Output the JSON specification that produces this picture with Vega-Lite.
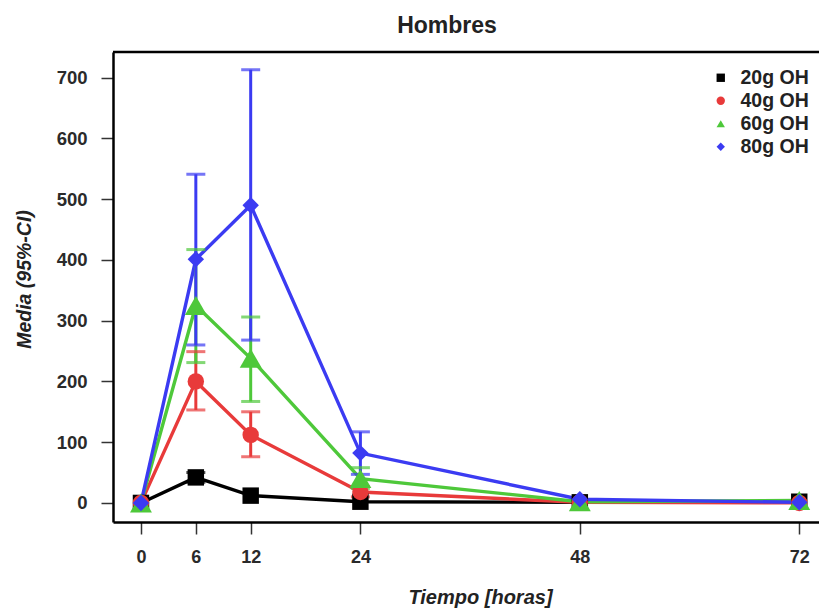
{
  "$schema": "https://vega.github.io/schema/vega-lite/v6.json",
  "width": 706,
  "height": 470,
  "autosize": {"type": "none"},
  "padding": {"left": 113, "top": 52, "right": 0, "bottom": 87},
  "title": {
    "text": "Hombres",
    "font": "Liberation Sans",
    "fontSize": 23,
    "fontWeight": "bold",
    "color": "#222222",
    "anchor": "middle",
    "frame": "group",
    "dx": -19,
    "offset": -5,
    "baseline": "alphabetic"
  },
  "config": {
    "view": {"stroke": null},
    "font": "Liberation Sans"
  },
  "data": {
    "values": [
      {"serie": "20g OH", "t": 0, "mean": 0, "lo": null, "hi": null},
      {"serie": "20g OH", "t": 6, "mean": 42, "lo": 34, "hi": 50},
      {"serie": "20g OH", "t": 12, "mean": 12, "lo": null, "hi": null},
      {"serie": "20g OH", "t": 24, "mean": 2, "lo": null, "hi": null},
      {"serie": "20g OH", "t": 48, "mean": 1, "lo": null, "hi": null},
      {"serie": "20g OH", "t": 72, "mean": 2, "lo": null, "hi": null},
      {"serie": "40g OH", "t": 0, "mean": 0, "lo": null, "hi": null},
      {"serie": "40g OH", "t": 6, "mean": 200, "lo": 153, "hi": 249},
      {"serie": "40g OH", "t": 12, "mean": 112, "lo": 76, "hi": 150},
      {"serie": "40g OH", "t": 24, "mean": 18, "lo": 10, "hi": 27},
      {"serie": "40g OH", "t": 48, "mean": 1, "lo": null, "hi": null},
      {"serie": "40g OH", "t": 72, "mean": 0, "lo": null, "hi": null},
      {"serie": "60g OH", "t": 0, "mean": 0, "lo": null, "hi": null},
      {"serie": "60g OH", "t": 6, "mean": 325, "lo": 231, "hi": 417},
      {"serie": "60g OH", "t": 12, "mean": 238, "lo": 167, "hi": 306},
      {"serie": "60g OH", "t": 24, "mean": 40, "lo": 24, "hi": 58},
      {"serie": "60g OH", "t": 48, "mean": 2, "lo": null, "hi": null},
      {"serie": "60g OH", "t": 72, "mean": 4, "lo": null, "hi": null},
      {"serie": "80g OH", "t": 0, "mean": 0, "lo": null, "hi": null},
      {"serie": "80g OH", "t": 6, "mean": 401, "lo": 260, "hi": 541},
      {"serie": "80g OH", "t": 12, "mean": 490, "lo": 268, "hi": 713},
      {"serie": "80g OH", "t": 24, "mean": 82, "lo": 47, "hi": 117},
      {"serie": "80g OH", "t": 48, "mean": 6, "lo": null, "hi": null},
      {"serie": "80g OH", "t": 72, "mean": 1, "lo": null, "hi": null}
    ]
  },
  "layer": [
    {
      "mark": {"type": "line", "strokeWidth": 3.4},
      "encoding": {
        "x": {
          "field": "t", "type": "quantitative",
          "scale": {"domain": [-3.06, 74.16], "nice": false, "zero": false},
          "title": "Tiempo [horas]",
          "axis": {
            "values": [0, 6, 12, 24, 48, 72],
            "grid": false,
            "domainColor": "#000000",
            "domainWidth": 2.5,
            "tickColor": "#333333",
            "tickWidth": 1.5,
            "tickSize": 12,
            "labelFont": "Liberation Sans",
            "labelFontSize": 18,
            "labelFontWeight": "bold",
            "labelColor": "#2a2a2a",
            "labelPadding": 14,
            "titleFont": "Liberation Sans",
            "titleFontSize": 20,
            "titleFontWeight": "bold",
            "titleFontStyle": "italic",
            "titleColor": "#222222",
            "titleX": 367,
            "titleY": 75,
            "titleBaseline": "middle",
            "titleAlign": "center"
          }
        },
        "y": {
          "field": "mean", "type": "quantitative",
          "scale": {"domain": [-31.4, 742.2], "nice": false, "zero": false},
          "title": "Media (95%-CI)",
          "axis": {
            "values": [0, 100, 200, 300, 400, 500, 600, 700],
            "grid": false,
            "domainColor": "#000000",
            "domainWidth": 2.5,
            "tickColor": "#333333",
            "tickWidth": 1.5,
            "tickSize": 12,
            "labelFont": "Liberation Sans",
            "labelFontSize": 18.5,
            "labelFontWeight": "bold",
            "labelColor": "#2a2a2a",
            "labelPadding": 14,
            "titleFont": "Liberation Sans",
            "titleFontSize": 19.5,
            "titleFontWeight": "bold",
            "titleFontStyle": "italic",
            "titleColor": "#222222",
            "titleAngle": -90,
            "titleX": -89,
            "titleY": 227,
            "titleBaseline": "middle",
            "titleAlign": "center"
          }
        },
        "color": {
          "field": "serie", "type": "nominal",
          "scale": {"domain": ["20g OH", "40g OH", "60g OH", "80g OH"], "range": ["#000000", "#e83a3a", "#4ec83a", "#3b3bf2"]},
          "legend": {
            "orient": "none",
            "legendX": 598,
            "legendY": 16,
            "title": null,
            "padding": 0,
            "labelFont": "Liberation Sans",
            "labelFontSize": 19.5,
            "labelFontWeight": "bold",
            "labelColor": "#222222",
            "labelOffset": 10,
            "symbolSize": 70,
            "symbolStrokeWidth": 0,
            "symbolOpacity": 1,
            "rowPadding": 2,
            "encode": {"symbols": {"update": {"opacity": {"value": 1}, "fillOpacity": {"value": 1}}}}
          }
        }
      }
    },
    {
      "transform": [{"filter": "datum.lo != null"}],
      "mark": {"type": "rule", "strokeWidth": 3},
      "encoding": {
        "x": {"field": "t", "type": "quantitative"},
        "y": {"field": "lo", "type": "quantitative", "title": "Media (95%-CI)"},
        "y2": {"field": "hi"},
        "color": {"field": "serie", "type": "nominal"}
      }
    },
    {
      "transform": [{"filter": "datum.lo != null"}],
      "mark": {"type": "tick", "orient": "horizontal", "size": 19, "thickness": 3},
      "encoding": {
        "x": {"field": "t", "type": "quantitative"},
        "y": {"field": "lo", "type": "quantitative", "title": "Media (95%-CI)"},
        "color": {"field": "serie", "type": "nominal"}
      }
    },
    {
      "transform": [{"filter": "datum.hi != null"}],
      "mark": {"type": "tick", "orient": "horizontal", "size": 19, "thickness": 3},
      "encoding": {
        "x": {"field": "t", "type": "quantitative"},
        "y": {"field": "hi", "type": "quantitative", "title": "Media (95%-CI)"},
        "color": {"field": "serie", "type": "nominal"}
      }
    },
    {
      "mark": {"type": "point", "filled": true, "opacity": 1, "strokeWidth": 0},
      "encoding": {
        "x": {"field": "t", "type": "quantitative"},
        "y": {"field": "mean", "type": "quantitative", "title": "Media (95%-CI)"},
        "color": {"field": "serie", "type": "nominal"},
        "shape": {
          "field": "serie", "type": "nominal",
          "scale": {"domain": ["20g OH", "40g OH", "60g OH", "80g OH"], "range": ["square", "circle", "triangle-up", "diamond"]},
          "legend": {
            "orient": "none",
            "legendX": 598,
            "legendY": 16,
            "title": null,
            "padding": 0,
            "labelFont": "Liberation Sans",
            "labelFontSize": 19.5,
            "labelFontWeight": "bold",
            "labelColor": "#222222",
            "labelOffset": 10,
            "symbolSize": 70,
            "symbolStrokeWidth": 0,
            "symbolOpacity": 1,
            "rowPadding": 2,
            "encode": {"symbols": {"update": {"opacity": {"value": 1}, "fillOpacity": {"value": 1}}}}
          }
        },
        "size": {
          "condition": {"test": "datum.serie === '60g OH'", "value": 480},
          "value": 270
        }
      }
    },
    {
      "data": {"values": [{"top": 742.2}]},
      "mark": {"type": "rule", "color": "#000000", "strokeWidth": 2.5},
      "encoding": {
        "y": {"field": "top", "type": "quantitative", "title": "Media (95%-CI)"}
      }
    }
  ]
}
